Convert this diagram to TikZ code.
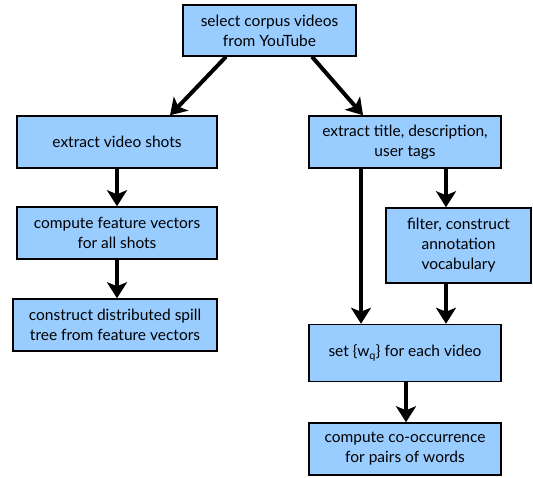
\documentclass[tikz,border=0pt]{standalone}
\usepackage{fontspec}
\setmainfont{Lato}
\usetikzlibrary{arrows.meta}
\definecolor{boxblue}{RGB}{153,204,255}

\begin{document}
\begin{tikzpicture}[
		x=1pt, y=-1pt,
		step box/.style={draw, fill=boxblue, line width=1.5pt, align=center,
			inner sep=0pt, font=\fontsize{15.5}{20}\selectfont},
		flow/.style={line width=4pt, -{Stealth[length=16pt,width=20pt,inset=4pt]}}
	]
		\useasboundingbox (0,0) rectangle (533,477);

		\path
			(269.5,30.5) node[step box, minimum width=173pt, minimum height=51pt](corpus){select corpus videos\\from YouTube}
			(117,142) node[step box, minimum width=200pt, minimum height=52pt](shots){extract video shots}
			(117,233) node[step box, minimum width=200pt, minimum height=52pt](features){compute feature vectors\\for all shots}
			(115,325) node[step box, minimum width=204pt, minimum height=52pt](spilltree){construct distributed spill\\tree from feature vectors}
			(405,142) node[step box, minimum width=192pt, minimum height=52pt](meta){extract title, description,\\user tags}
			(458.5,245.5) node[step box, minimum width=145pt, minimum height=75pt](vocab){filter, construct\\annotation\\vocabulary}
			(405,353) node[step box, minimum width=192pt, minimum height=57pt](wordset){set \{w\textsubscript{q}\} for each video}
			(405,449) node[step box, minimum width=192pt, minimum height=52pt](cooccur){compute co-occurrence\\for pairs of words}
		;

		\draw[flow] ([xshift=-43.5pt]corpus.south) -- ([xshift=53pt]shots.north);
		\draw[flow] ([xshift=42.5pt]corpus.south) -- ([xshift=-42pt]meta.north);
		\draw[flow] (shots) -- (features);
		\draw[flow] (features.south) -- (features.south |- spilltree.north);
		\draw[flow] ([xshift=41pt]meta.south) -- ([xshift=41pt]meta.south |- vocab.north);
		\draw[flow] ([xshift=-44pt]meta.south) -- ([xshift=-44pt]wordset.north);
		\draw[flow] ([xshift=-12.5pt]vocab.south) -- ([xshift=-12.5pt]vocab.south |- wordset.north);
		\draw[flow] ([xshift=1pt]wordset.south) -- ([xshift=1pt]cooccur.north);
	\end{tikzpicture}
\end{document}
